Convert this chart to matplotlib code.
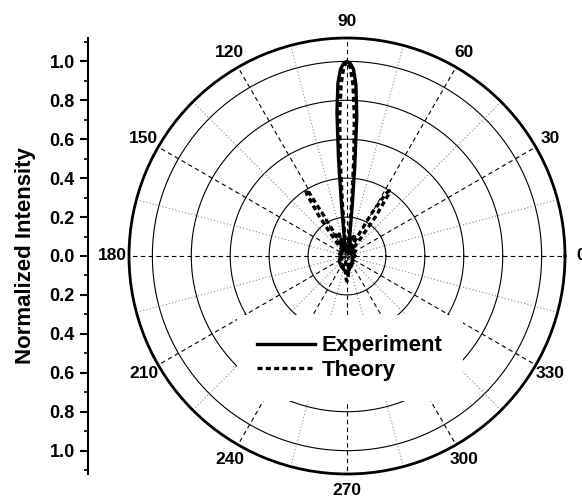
import numpy as np
import matplotlib.pyplot as plt
from matplotlib.ticker import MultipleLocator, FuncFormatter

plt.rcParams['font.family'] = ['Liberation Sans', 'DejaVu Sans']
plt.rcParams['font.weight'] = 'bold'

# measured pattern (angle in degrees, normalized intensity)
exp_angle = [0, 15, 30, 45, 60, 70, 78, 80, 82, 83, 84, 85, 86, 87, 88, 89, 90,
             91, 92, 93, 94, 95, 96, 97, 98, 100, 105, 120, 135, 150, 165, 180,
             200, 220, 240, 255, 265, 270, 275, 285, 300, 320, 340, 360]
exp_int = [0.04, 0.03, 0.05, 0.04, 0.06, 0.05, 0.06, 0.07, 0.10, 0.14, 0.25, 0.45,
           0.72, 0.88, 0.96, 0.99, 1.00, 0.99, 0.96, 0.89, 0.74, 0.50, 0.28, 0.16,
           0.11, 0.07, 0.05, 0.06, 0.04, 0.03, 0.04, 0.03, 0.04, 0.05, 0.06, 0.07,
           0.08, 0.09, 0.08, 0.06, 0.05, 0.04, 0.03, 0.04]

# calculated pattern
th_angle = [0, 20, 40, 48, 52, 54, 56, 57, 58, 60, 62, 64, 68, 70, 72, 75, 78, 80,
            82, 84, 85, 86, 87, 88, 89, 90, 91, 92, 93, 94, 95, 96, 98, 100, 102,
            105, 108, 110, 112, 116, 118, 120, 121, 122, 123, 125, 127, 132, 140,
            160, 180, 200, 230, 250, 258, 264, 268, 270, 272, 276, 282, 290, 310,
            340, 360]
th_int = [0.02, 0.03, 0.04, 0.02, 0.10, 0.25, 0.38, 0.40, 0.38, 0.25, 0.10, 0.03,
          0.08, 0.12, 0.06, 0.02, 0.08, 0.10, 0.02, 0.12, 0.28, 0.50, 0.72, 0.88,
          0.97, 1.00, 0.97, 0.88, 0.72, 0.50, 0.28, 0.12, 0.02, 0.10, 0.04, 0.02,
          0.06, 0.12, 0.08, 0.03, 0.10, 0.25, 0.38, 0.40, 0.38, 0.25, 0.10, 0.02,
          0.04, 0.03, 0.02, 0.03, 0.04, 0.06, 0.03, 0.08, 0.12, 0.13, 0.12, 0.08,
          0.03, 0.06, 0.04, 0.03, 0.02]

ring_r = [0.2, 0.4, 0.6, 0.8, 1.0]
rmax = 1.12
angle_labels = ['0', '30', '60', '90', '120', '150', '180', '210', '240', '270', '300', '330']

fig = plt.figure(figsize=(5.82, 5.0), dpi=100)
ax = fig.add_axes([129/582, 26/500, 436/582, 436/500], projection='polar')

# grid drawn by hand: solid rings, dashed/dotted spokes
full = np.linspace(0, 2*np.pi, 400)
for r in ring_r:
    ax.plot(full, np.full_like(full, r), color='black', lw=0.8, zorder=1)
for a in range(0, 360, 15):
    t = np.deg2rad(a)
    if a % 30 == 0:
        ax.plot([t, t], [0, rmax], color='black', lw=0.8, ls=(0, (4, 3)), zorder=1)
    else:
        ax.plot([t, t], [0, rmax], color='#888888', lw=0.8, ls=(0, (1, 2)), zorder=1)

ax.plot(np.deg2rad(exp_angle), exp_int, color='black', lw=2.4, label='Experiment', zorder=3)
ax.plot(np.deg2rad(th_angle), th_int, color='black', lw=2.4, ls=(0, (1.5, 1)),
        label='Theory', zorder=4)

ax.set_rlim(0, rmax)
ax.set_yticks([])
ax.grid(False)
ax.set_xticks(np.deg2rad(np.arange(0, 360, 30)))
ax.set_xticklabels(angle_labels, fontsize=12.5, fontweight='bold')
ax.set_xticks(np.deg2rad(np.arange(15, 360, 30)), minor=True)
ax.tick_params(axis='x', which='major', direction='in', length=8, width=1.5, pad=5)
ax.tick_params(axis='x', which='minor', direction='in', length=5, width=1.2)
ax.spines['polar'].set_linewidth(2)

leg = ax.legend(loc='center', bbox_to_anchor=(350/582, 1 - 358/500),
                bbox_transform=fig.transFigure, prop={'size': 16, 'weight': 'bold'},
                handlelength=2.6, handletextpad=0.3, labelspacing=0.15,
                borderpad=0.9, frameon=True, facecolor='white', edgecolor='none',
                framealpha=1, fancybox=False)

# left intensity scale
lax = fig.add_axes([88/582, 26/500, 0.001, 436/500])
lax.set_ylim(-rmax, rmax)
lax.set_xticks([])
for s in ['top', 'right', 'bottom']:
    lax.spines[s].set_visible(False)
lax.spines['left'].set_linewidth(1.5)
lax.yaxis.set_major_locator(MultipleLocator(0.2))
lax.yaxis.set_minor_locator(MultipleLocator(0.1))
lax.yaxis.set_major_formatter(FuncFormatter(lambda v, p: f'{abs(v):.1f}' if abs(v) <= 1.01 else ''))
lax.tick_params(axis='y', which='major', direction='out', length=6, width=1.5, labelsize=13)
lax.tick_params(axis='y', which='minor', direction='out', length=3, width=1.2)
for lbl in lax.get_yticklabels():
    lbl.set_fontweight('bold')
lax.set_ylabel('Normalized Intensity', fontsize=16, fontweight='bold', labelpad=10)

fig.savefig('out.png', dpi=100)
